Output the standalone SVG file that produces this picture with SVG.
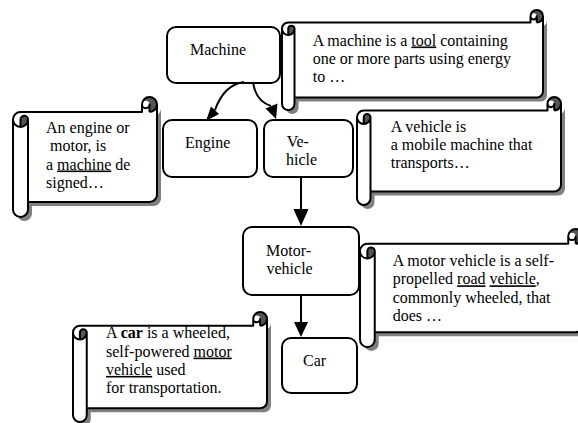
<svg xmlns="http://www.w3.org/2000/svg" width="578" height="423" viewBox="0 0 578 423">
<style>
text{font-family:"Liberation Serif","Times New Roman",serif;font-size:16px;fill:#000}
.node{fill:#fff;stroke:#000;stroke-width:2}
.sh{fill:#808080;stroke:none}
.sf{fill:#fff;stroke:none}
.sd{fill:#555;stroke:none}
.ss{fill:none;stroke:#000;stroke-width:2;stroke-linejoin:round}
.u{text-decoration:underline}
.b{font-weight:bold}
.conn{fill:none;stroke:#000;stroke-width:2}
.head{fill:#000;stroke:none}
</style>
<rect width="578" height="423" fill="#fff"/>

<g id="scroll-machine" transform="translate(282,10)">
<path class="sh" transform="translate(4,4)" d="M261,6.25 A6.25,6.25 0 0 1 254.75,12.5 L254.75,6.25 A3.125,3.125 0 0 1 248.5,6.25 L248.5,12.5 L6.25,12.5 A6.25,6.25 0 0 0 0,18.75 L0,93.75 A6.25,6.25 0 0 0 12.5,93.75 L12.5,87.5 L254.75,87.5 A6.25,6.25 0 0 0 261,81.25 Z"/>
<path class="sf" d="M261,6.25 A6.25,6.25 0 0 1 254.75,12.5 L254.75,6.25 A3.125,3.125 0 0 1 248.5,6.25 L248.5,12.5 L6.25,12.5 A6.25,6.25 0 0 0 0,18.75 L0,93.75 A6.25,6.25 0 0 0 12.5,93.75 L12.5,87.5 L254.75,87.5 A6.25,6.25 0 0 0 261,81.25 Z"/>
<path class="sd" d="M254.75,12.5 A6.25,6.25 0 1 0 248.5,6.25 A3.125,3.125 0 0 1 254.75,6.25 Z M6.25,25 A6.25,6.25 0 0 0 12.5,18.75 A3.125,3.125 0 0 0 6.25,18.75 Z"/>
<path class="ss" d="M0,18.75 A6.25,6.25 0 0 1 6.25,12.5 L248.5,12.5 L248.5,6.25 A6.25,6.25 0 0 1 261,6.25 L261,81.25 A6.25,6.25 0 0 1 254.75,87.5 L12.5,87.5 L12.5,93.75 A6.25,6.25 0 0 1 0,93.75 Z M254.75,12.5 A6.25,6.25 0 0 0 261,6.25 M254.75,12.5 L254.75,6.25 A3.125,3.125 0 0 1 248.5,6.25 M6.25,25 L6.25,18.75 A3.125,3.125 0 0 1 12.5,18.75 A6.25,6.25 0 0 1 0,18.75 M12.5,18.75 L12.5,87.5"/>
</g>
<text x="312.7" y="45.5"><tspan>A machine is a </tspan><tspan class="u">tool</tspan><tspan> containing</tspan></text>
<text x="312.7" y="63.8">one or more parts using energy</text>
<text x="312.7" y="82.1">to …</text>

<g id="scroll-engine" transform="translate(13,97)">
<path class="sh" transform="translate(4,4)" d="M144,7.5 A7.5,7.5 0 0 1 136.5,15 L136.5,7.5 A3.75,3.75 0 0 1 129,7.5 L129,15 L7.5,15 A7.5,7.5 0 0 0 0,22.5 L0,112.5 A7.5,7.5 0 0 0 15,112.5 L15,105 L136.5,105 A7.5,7.5 0 0 0 144,97.5 Z"/>
<path class="sf" d="M144,7.5 A7.5,7.5 0 0 1 136.5,15 L136.5,7.5 A3.75,3.75 0 0 1 129,7.5 L129,15 L7.5,15 A7.5,7.5 0 0 0 0,22.5 L0,112.5 A7.5,7.5 0 0 0 15,112.5 L15,105 L136.5,105 A7.5,7.5 0 0 0 144,97.5 Z"/>
<path class="sd" d="M136.5,15 A7.5,7.5 0 1 0 129,7.5 A3.75,3.75 0 0 1 136.5,7.5 Z M7.5,30 A7.5,7.5 0 0 0 15,22.5 A3.75,3.75 0 0 0 7.5,22.5 Z"/>
<path class="ss" d="M0,22.5 A7.5,7.5 0 0 1 7.5,15 L129,15 L129,7.5 A7.5,7.5 0 0 1 144,7.5 L144,97.5 A7.5,7.5 0 0 1 136.5,105 L15,105 L15,112.5 A7.5,7.5 0 0 1 0,112.5 Z M136.5,15 A7.5,7.5 0 0 0 144,7.5 M136.5,15 L136.5,7.5 A3.75,3.75 0 0 1 129,7.5 M7.5,30 L7.5,22.5 A3.75,3.75 0 0 1 15,22.5 A7.5,7.5 0 0 1 0,22.5 M15,22.5 L15,105"/>
</g>
<text x="46" y="132.5">An engine or</text>
<text x="50" y="151">motor, is</text>
<text x="46" y="169.5"><tspan>a </tspan><tspan class="u">machine</tspan><tspan> de</tspan></text>
<text x="46" y="188">signed…</text>

<g id="scroll-vehicle" transform="translate(357,97)">
<path class="sh" transform="translate(4,4)" d="M204,6.75 A6.75,6.75 0 0 1 197.25,13.5 L197.25,6.75 A3.375,3.375 0 0 1 190.5,6.75 L190.5,13.5 L6.75,13.5 A6.75,6.75 0 0 0 0,20.25 L0,101.25 A6.75,6.75 0 0 0 13.5,101.25 L13.5,94.5 L197.25,94.5 A6.75,6.75 0 0 0 204,87.75 Z"/>
<path class="sf" d="M204,6.75 A6.75,6.75 0 0 1 197.25,13.5 L197.25,6.75 A3.375,3.375 0 0 1 190.5,6.75 L190.5,13.5 L6.75,13.5 A6.75,6.75 0 0 0 0,20.25 L0,101.25 A6.75,6.75 0 0 0 13.5,101.25 L13.5,94.5 L197.25,94.5 A6.75,6.75 0 0 0 204,87.75 Z"/>
<path class="sd" d="M197.25,13.5 A6.75,6.75 0 1 0 190.5,6.75 A3.375,3.375 0 0 1 197.25,6.75 Z M6.75,27 A6.75,6.75 0 0 0 13.5,20.25 A3.375,3.375 0 0 0 6.75,20.25 Z"/>
<path class="ss" d="M0,20.25 A6.75,6.75 0 0 1 6.75,13.5 L190.5,13.5 L190.5,6.75 A6.75,6.75 0 0 1 204,6.75 L204,87.75 A6.75,6.75 0 0 1 197.25,94.5 L13.5,94.5 L13.5,101.25 A6.75,6.75 0 0 1 0,101.25 Z M197.25,13.5 A6.75,6.75 0 0 0 204,6.75 M197.25,13.5 L197.25,6.75 A3.375,3.375 0 0 1 190.5,6.75 M6.75,27 L6.75,20.25 A3.375,3.375 0 0 1 13.5,20.25 A6.75,6.75 0 0 1 0,20.25 M13.5,20.25 L13.5,94.5"/>
</g>
<text x="390.7" y="131.7">A vehicle is</text>
<text x="390.7" y="150">a mobile machine that</text>
<text x="390.7" y="168.3">transports…</text>

<g id="scroll-motorvehicle" transform="translate(360,229)">
<path class="sh" transform="translate(4,4)" d="M223,7.375 A7.375,7.375 0 0 1 215.625,14.75 L215.625,7.375 A3.6875,3.6875 0 0 1 208.25,7.375 L208.25,14.75 L7.375,14.75 A7.375,7.375 0 0 0 0,22.125 L0,110.625 A7.375,7.375 0 0 0 14.75,110.625 L14.75,103.25 L215.625,103.25 A7.375,7.375 0 0 0 223,95.875 Z"/>
<path class="sf" d="M223,7.375 A7.375,7.375 0 0 1 215.625,14.75 L215.625,7.375 A3.6875,3.6875 0 0 1 208.25,7.375 L208.25,14.75 L7.375,14.75 A7.375,7.375 0 0 0 0,22.125 L0,110.625 A7.375,7.375 0 0 0 14.75,110.625 L14.75,103.25 L215.625,103.25 A7.375,7.375 0 0 0 223,95.875 Z"/>
<path class="sd" d="M215.625,14.75 A7.375,7.375 0 1 0 208.25,7.375 A3.6875,3.6875 0 0 1 215.625,7.375 Z M7.375,29.5 A7.375,7.375 0 0 0 14.75,22.125 A3.6875,3.6875 0 0 0 7.375,22.125 Z"/>
<path class="ss" d="M0,22.125 A7.375,7.375 0 0 1 7.375,14.75 L208.25,14.75 L208.25,7.375 A7.375,7.375 0 0 1 223,7.375 L223,95.875 A7.375,7.375 0 0 1 215.625,103.25 L14.75,103.25 L14.75,110.625 A7.375,7.375 0 0 1 0,110.625 Z M215.625,14.75 A7.375,7.375 0 0 0 223,7.375 M215.625,14.75 L215.625,7.375 A3.6875,3.6875 0 0 1 208.25,7.375 M7.375,29.5 L7.375,22.125 A3.6875,3.6875 0 0 1 14.75,22.125 A7.375,7.375 0 0 1 0,22.125 M14.75,22.125 L14.75,103.25"/>
</g>
<text x="392.7" y="266">A motor vehicle is a self-</text>
<text x="392.7" y="284.3"><tspan>propelled </tspan><tspan class="u">road</tspan><tspan> </tspan><tspan class="u">vehicle</tspan><tspan>,</tspan></text>
<text x="392.7" y="302.6">commonly wheeled, that</text>
<text x="392.7" y="320.9">does …</text>

<g id="scroll-car" transform="translate(73,312)">
<path class="sh" transform="translate(4,4)" d="M194,6.875 A6.875,6.875 0 0 1 187.125,13.75 L187.125,6.875 A3.4375,3.4375 0 0 1 180.25,6.875 L180.25,13.75 L6.875,13.75 A6.875,6.875 0 0 0 0,20.625 L0,103.125 A6.875,6.875 0 0 0 13.75,103.125 L13.75,96.25 L187.125,96.25 A6.875,6.875 0 0 0 194,89.375 Z"/>
<path class="sf" d="M194,6.875 A6.875,6.875 0 0 1 187.125,13.75 L187.125,6.875 A3.4375,3.4375 0 0 1 180.25,6.875 L180.25,13.75 L6.875,13.75 A6.875,6.875 0 0 0 0,20.625 L0,103.125 A6.875,6.875 0 0 0 13.75,103.125 L13.75,96.25 L187.125,96.25 A6.875,6.875 0 0 0 194,89.375 Z"/>
<path class="sd" d="M187.125,13.75 A6.875,6.875 0 1 0 180.25,6.875 A3.4375,3.4375 0 0 1 187.125,6.875 Z M6.875,27.5 A6.875,6.875 0 0 0 13.75,20.625 A3.4375,3.4375 0 0 0 6.875,20.625 Z"/>
<path class="ss" d="M0,20.625 A6.875,6.875 0 0 1 6.875,13.75 L180.25,13.75 L180.25,6.875 A6.875,6.875 0 0 1 194,6.875 L194,89.375 A6.875,6.875 0 0 1 187.125,96.25 L13.75,96.25 L13.75,103.125 A6.875,6.875 0 0 1 0,103.125 Z M187.125,13.75 A6.875,6.875 0 0 0 194,6.875 M187.125,13.75 L187.125,6.875 A3.4375,3.4375 0 0 1 180.25,6.875 M6.875,27.5 L6.875,20.625 A3.4375,3.4375 0 0 1 13.75,20.625 A6.875,6.875 0 0 1 0,20.625 M13.75,20.625 L13.75,96.25"/>
</g>
<text x="106" y="338.3"><tspan>A </tspan><tspan class="b">car</tspan><tspan> is a wheeled,</tspan></text>
<text x="106" y="356.6"><tspan>self-powered </tspan><tspan class="u">motor</tspan></text>
<text x="106" y="374.9"><tspan class="u">vehicle</tspan><tspan> used</tspan></text>
<text x="106" y="393.2">for transportation.</text>

<g id="node-machine">
<rect class="node" x="167" y="27" width="113" height="56" rx="9"/>
<text x="190" y="55">Machine</text>
</g>
<g id="node-engine">
<rect class="node" x="163" y="120" width="94" height="57" rx="9"/>
<text x="185" y="147.7">Engine</text>
</g>
<g id="node-vehicle">
<rect class="node" x="264" y="120" width="89" height="57" rx="9"/>
<text x="286.7" y="146.7">Ve-</text>
<text x="286" y="164.5">hicle</text>
</g>
<g id="node-motorvehicle">
<rect class="node" x="243" y="227" width="116" height="68" rx="9"/>
<text x="266" y="255.7">Motor-</text>
<text x="266.5" y="273.5">vehicle</text>
</g>
<g id="node-car">
<rect class="node" x="282" y="338" width="75" height="55" rx="9"/>
<text x="303" y="365.5">Car</text>
</g>

<g id="connectors">
<path class="conn" d="M244,82 C229,84 220,96 215,110"/>
<polygon class="head" points="206,121 211,106.5 219,114"/>
<path class="conn" d="M253,82 C255,97 262,103 271,106"/>
<polygon class="head" points="276,119 265.5,108.5 277.5,103.5"/>
<line class="conn" x1="301" y1="177" x2="301" y2="211"/>
<polygon class="head" points="293.5,209 308.5,209 301,226"/>
<line class="conn" x1="301" y1="295" x2="301" y2="324"/>
<polygon class="head" points="294,322 308,322 301,337"/>
</g>
</svg>
